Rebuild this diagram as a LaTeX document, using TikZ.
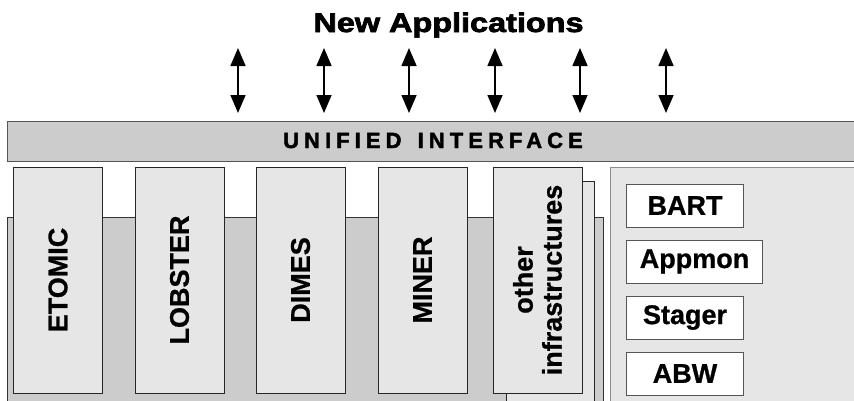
\documentclass[tikz,border=0pt]{standalone}
\usepackage{fontspec}
\setmainfont{Liberation Sans}
\newfontfamily\heavyfont[FakeBold=2.5]{Liberation Sans Bold}
\newfontfamily\spacedfont[FakeBold=2,LetterSpace=23]{Liberation Sans Bold}
\newfontfamily\boldfont[FakeBold=0.8]{Liberation Sans Bold}
\usetikzlibrary{arrows.meta}
\definecolor{midgray}{HTML}{CCCCCC}
\definecolor{lightgray}{HTML}{E6E6E6}
\definecolor{edgegray}{HTML}{555555}
\definecolor{panelgray}{HTML}{8C8C8C}
\tikzset{
  colbox/.style={draw=black!85, fill=lightgray, line width=0.9pt, rotate=90,
    minimum width=226pt, minimum height=89pt, inner sep=0pt,
    font=\boldfont\fontsize{27}{29}\selectfont, align=center},
  toolbox/.style={draw=edgegray, fill=white, line width=1pt, anchor=west,
    minimum height=43pt, inner sep=0pt, font=\boldfont\fontsize{27}{29}\selectfont},
  dblarrow/.style={line width=1.6pt, {Triangle[width=15pt,length=18pt]}-{Triangle[width=15pt,length=18pt]}}
}
\begin{document}
\begin{tikzpicture}[x=1pt,y=-1pt]
\useasboundingbox (0,0) rectangle (854,400);
\clip (0,0) rectangle (854,400);
% big gray background
\draw[fill=midgray, draw=black!80, line width=0.9pt] (7,217) rectangle (603,410);
% unified interface bar
\node[draw=edgegray, fill=midgray, line width=0.9pt, anchor=north west, minimum width=860pt, minimum height=40pt, inner sep=0pt] (bar) at (7,121) {};
\node[anchor=base, font=\spacedfont\fontsize{22}{22}\selectfont] (bartext) at (433,148) {UNIFIED~\hspace{5pt}INTERFACE};
% right panel
\draw[fill=lightgray, draw=panelgray, line width=1pt] (610,167) rectangle (870,410);
% shadow box behind other infrastructures
\draw[fill=lightgray, draw=black!85, line width=0.9pt] (506,181) rectangle (594,410);
% columns
\node[colbox] (etomic) at (58,280) {ETOMIC};
\node[colbox] (lobster) at (179.5,280) {LOBSTER};
\node[colbox] (dimes) at (300.5,280) {DIMES};
\node[colbox] (miner) at (422.5,280) {MINER};
\node[colbox] (other) at (537.5,280) {other\\infrastructures};
% tool boxes
\node[toolbox, minimum width=117pt] (bart) at (626,205.5) {BART};
\node[toolbox, minimum width=136pt] (appmon) at (626,261.5) {Appmon};
\node[toolbox, minimum width=117pt] (stager) at (626,317.5) {Stager};
\node[toolbox, minimum width=117pt] (abw) at (626,373.5) {ABW};
% title
\node[anchor=base, font=\heavyfont\fontsize{27}{27}\selectfont] (title) at (448.5,32) {\scalebox{1.2}[1]{New Applications}};
% arrows
\foreach \i/\x in {1/238,2/324,3/409,4/495,5/580,6/666}{
  \coordinate (t\i) at (\x,48);
  \coordinate (b\i) at (\x,113);
  \draw[dblarrow] (t\i) -- (b\i);
}
\end{tikzpicture}
\end{document}
